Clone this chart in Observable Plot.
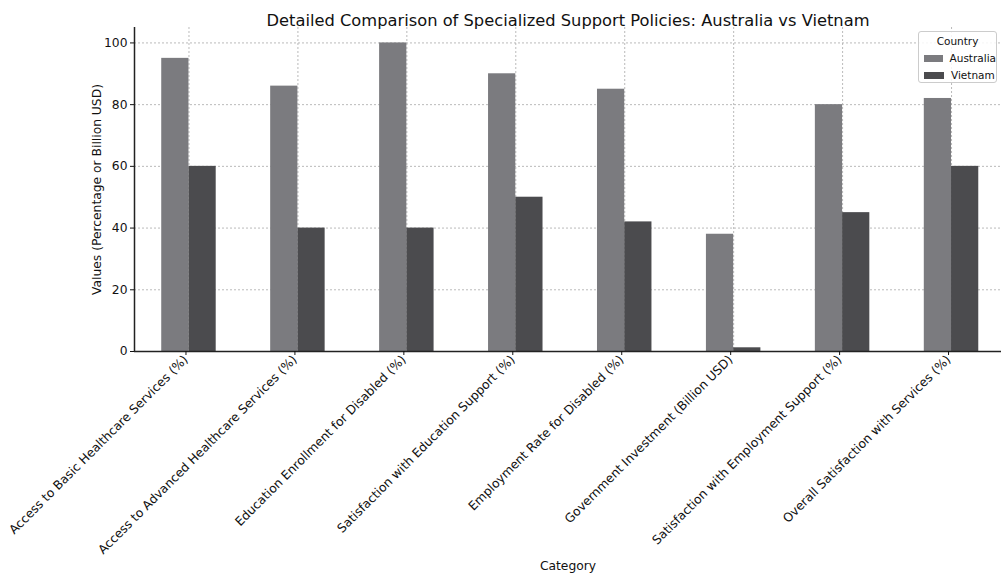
<!DOCTYPE html>
<html><head><meta charset="utf-8">
<script src="https://cdn.jsdelivr.net/npm/d3@7"></script>
<script src="https://cdn.jsdelivr.net/npm/@observablehq/plot@0.6"></script>
<style>
body{margin:0;background:#fff;font-family:"DejaVu Sans",sans-serif}
#c{position:relative;width:1001px;height:574px;overflow:hidden}
#legend{position:absolute;left:918px;top:31px;width:79px;height:52px;border:1px solid #ccc;border-radius:3px;background:rgba(255,255,255,0.85);font-size:10.5px;color:#111;box-sizing:border-box}
#legend .t{text-align:center;margin-top:3px;line-height:12px}
#legend .r{display:flex;align-items:center;margin:5px 0 0 5px;line-height:12px}
#legend .s{width:20px;height:7px;margin-right:7px}
</style>
</head><body><div id="c"></div><script>
const title = "Detailed Comparison of Specialized Support Policies: Australia vs Vietnam";
const categories = [
  "Access to Basic Healthcare Services (%)",
  "Access to Advanced Healthcare Services (%)",
  "Education Enrollment for Disabled (%)",
  "Satisfaction with Education Support (%)",
  "Employment Rate for Disabled (%)",
  "Government Investment (Billion USD)",
  "Satisfaction with Employment Support (%)",
  "Overall Satisfaction with Services (%)"
];
const australia = [95, 86, 100, 90, 85, 38, 80, 82];
const vietnam = [60, 40, 40, 50, 42, 1.2, 45, 60];
const countries = ["Australia", "Vietnam"];
const colors = ["#7b7b7f", "#4b4b4e"];
const yTicks = [0, 20, 40, 60, 80, 100];

const idx = d3.range(categories.length);
const rows = idx.flatMap(i => [
  {i, country: "Australia", value: australia[i], x1: i - 0.25, x2: i},
  {i, country: "Vietnam", value: vietnam[i], x1: i, x2: i + 0.25}
]);

const grid = {stroke: "#a8a8a8", strokeOpacity: 1, strokeDasharray: "2,2", strokeWidth: 0.8};

const plot = Plot.plot({
  width: 1001, height: 574,
  marginLeft: 134, marginRight: 0, marginTop: 27, marginBottom: 223,
  style: {fontFamily: "DejaVu Sans", fontSize: "12px", color: "#111", background: "#fff", overflow: "visible"},
  x: {type: "linear", domain: [-0.5, 7.5], range: [134, 1005.5]},
  y: {domain: [0, 105], range: [351, 27]},
  color: {domain: countries, range: colors},
  marks: [
    Plot.gridY(yTicks.slice(1), grid),
    Plot.gridX(idx, grid),
    Plot.rectY(rows, {x1: "x1", x2: "x2", y1: 0, y2: "value", fill: "country"}),
    Plot.ruleY([0], {stroke: "#222", strokeWidth: 1.5}),
    Plot.ruleX([-0.5], {stroke: "#222", strokeWidth: 1.5}),
    Plot.axisY(yTicks, {tickSize: 4, tickPadding: 3, fontSize: 12.3, label: "Values (Percentage or Billion USD)", labelAnchor: "center", labelOffset: 42, labelArrow: "none"}),
    Plot.axisX(idx, {tickFormat: i => categories[i], tickRotate: -45, tickSize: 4, tickPadding: 2, dx: -3, fontSize: 12.3, label: "Category", labelAnchor: "center", labelOffset: 218, labelArrow: "none"}),
    Plot.text([title], {frameAnchor: "top", dy: -13, fontSize: 16.3, fill: "#111"})
  ]
});
const c = document.getElementById("c");
c.appendChild(plot);
const lg = document.createElement("div");
lg.id = "legend";
lg.innerHTML = `<div class="t">Country</div>` + countries.map((n, k) => `<div class="r"><div class="s" style="background:${colors[k]}"></div>${n}</div>`).join("");
c.appendChild(lg);
</script></body></html>
